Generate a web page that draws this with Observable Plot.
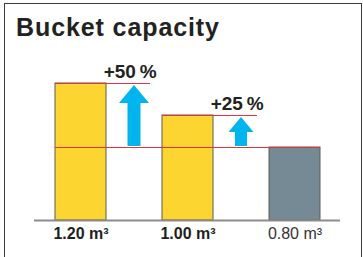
<!DOCTYPE html>
<html>
<head>
<meta charset="utf-8">
<script src="https://cdn.jsdelivr.net/npm/d3@7"></script>
<script src="https://cdn.jsdelivr.net/npm/@observablehq/plot@0.6"></script>
<style>
  html, body { margin: 0; padding: 0; background: #fff; }
  body { width: 363px; height: 257px; overflow: hidden; position: relative; font-family: "Liberation Sans", Arial, sans-serif; }
  #frame { position: absolute; left: 4px; top: 3px; width: 356px; height: 280px; border: 1px solid #3a3a3a; border-bottom: none; }
  #title { position: absolute; left: 16px; top: 15px; font-size: 25px; line-height: 25px; font-weight: bold; color: #222; letter-spacing: 0.9px; white-space: nowrap; }
  #chart { position: absolute; left: 0; top: 44px; }
</style>
</head>
<body>
<div id="frame"></div>
<div id="title">Bucket capacity</div>
<div id="chart"></div>
<script>
// ---- data ----
const categories = ["1.20 m\u00b3", "1.00 m\u00b3", "0.80 m\u00b3"];
const capacities = [1.20, 1.00, 0.80];
const increaseLabels = ["+50\u2009%", "+25\u2009%"];
const axisFloor = 0.344; // capacity value sitting on the baseline (axis is truncated)

// ---- layout / style ----
const W = 363, H = 213;
const mL = 34, mR = 23, mT = 39, mB = 37;
const padIn = 0.527, padOut = 0.184;
const step = (W - mL - mR) / (categories.length - padIn + 2 * padOut);
const yellow = "#fdd530", grey = "#768a95", red = "#e2333d", blue = "#00b4ee";

const bars = categories.map((c, i) => ({cat: c, value: capacities[i], highlight: i < categories.length - 1}));
const ref = bars[bars.length - 1];
const ups = increaseLabels.map((label, i) => ({label, cat: bars[i].cat, next: bars[i + 1].cat, value: bars[i].value, from: ref.value}));

function arrows(index, scales) {
  const x = scales.x, y = scales.y;
  const g = d3.create("svg:g");
  const sizes = [{hw: 15, hh: 18, sw: 6.5}, {hw: 12.5, hh: 15, sw: 6}];
  ups.forEach((d, i) => {
    const s = sizes[i];
    const cx = x(d.next) - (x.step() - x.bandwidth()) / 2;
    const tip = y(d.value) + 2;
    const base = tip + s.hh;
    const bottom = y(d.from) - 1;
    const p = [
      [cx, tip], [cx + s.hw, base], [cx + s.sw, base], [cx + s.sw, bottom],
      [cx - s.sw, bottom], [cx - s.sw, base], [cx - s.hw, base]
    ];
    g.append("path").attr("d", "M" + p.map(q => q.join(",")).join("L") + "Z").attr("fill", blue);
  });
  return g.node();
}

const plot = Plot.plot({
  width: W, height: H,
  marginLeft: mL, marginRight: mR, marginTop: mT, marginBottom: mB,
  style: {fontFamily: "Liberation Sans, Arial, sans-serif", background: "transparent"},
  x: {domain: categories, paddingInner: padIn, paddingOuter: padOut, axis: null},
  y: {domain: [axisFloor, 1.2], axis: null},
  marks: [
    Plot.barY(bars, {x: "cat", y1: axisFloor, y2: "value", fill: d => d.highlight ? yellow : grey, stroke: "#5e5a4e", strokeWidth: 1}),
    Plot.ruleY([ref], {y: "value", x1: () => bars[0].cat, x2: "cat", stroke: red, strokeWidth: 1.2}),
    Plot.ruleY(ups, {y: "value", x1: "cat", x2: "cat", insetRight: -44, stroke: red, strokeWidth: 1.2}),
    arrows,
    Plot.ruleY([axisFloor], {stroke: "#8c8c8c", strokeWidth: 2}),
    Plot.text(ups, {x: "next", y: "value", text: "label", dx: -step / 2 - 4, dy: -12, fontSize: 19, fontWeight: "bold", fill: "#222", style: "letter-spacing:2px"}),
    Plot.text(bars.filter(d => d.highlight), {x: "cat", y: axisFloor, text: "cat", dy: 13, fontSize: 16, fontWeight: "bold", fill: "#1e1e1e"}),
    Plot.text(bars.filter(d => !d.highlight), {x: "cat", y: axisFloor, text: "cat", dy: 13, fontSize: 16, fill: "#333"})
  ]
});
document.getElementById("chart").appendChild(plot);
</script>
</body>
</html>
